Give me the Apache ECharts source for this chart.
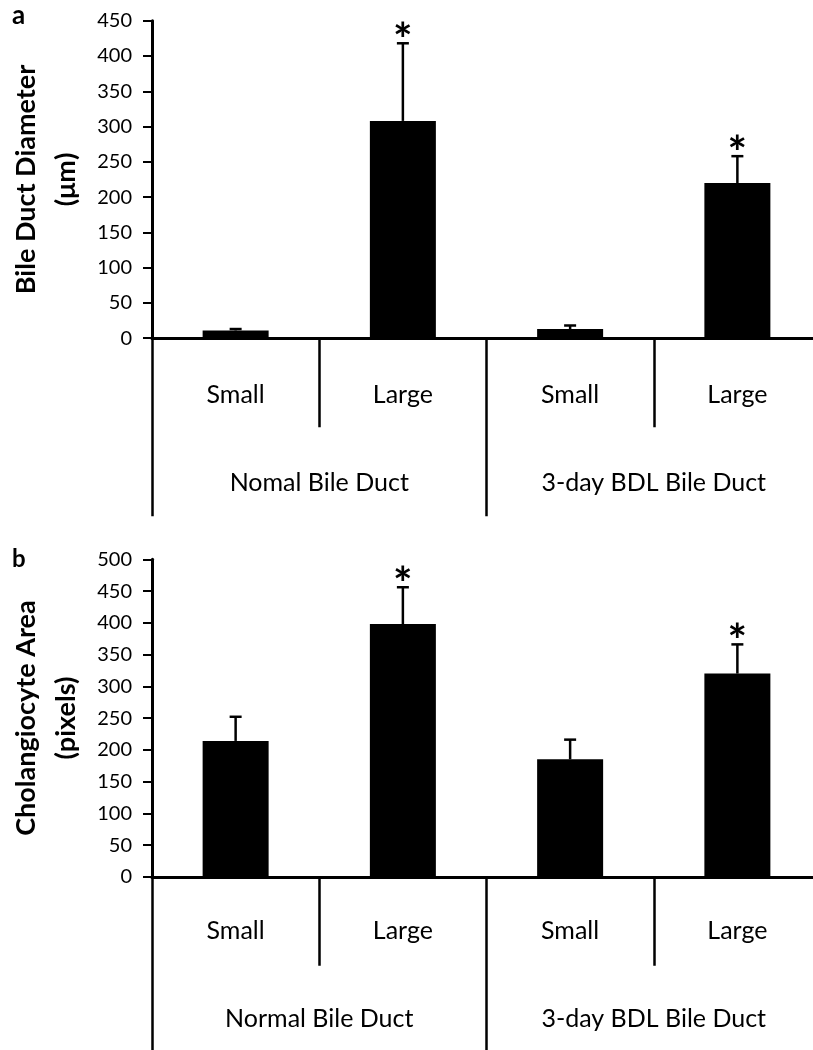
<!DOCTYPE html>
<html>
<head>
<meta charset="utf-8">
<script src="https://cdn.jsdelivr.net/npm/echarts@6/dist/echarts.min.js"></script>
<style>
  html, body { margin: 0; padding: 0; background: #fff; }
  #chart { width: 813px; height: 1050px; }
</style>
</head>
<body>
<div id="chart"></div>
<script>
// ---- data ----
const categories = ['Small', 'Large', 'Small', 'Large'];
const groupsA = ['Nomal Bile Duct', '3-day BDL Bile Duct'];
const groupsB = ['Normal Bile Duct', '3-day BDL Bile Duct'];
const diameterMean = [11, 308, 13, 220];
const diameterSD = [2, 110, 5, 38];
const areaMean = [214, 398, 185, 320];
const areaSD = [38, 58, 31, 46];
const significant = [0, 1, 0, 1];
const diameterAxis = { min: 0, max: 450, interval: 50 };
const areaAxis = { min: 0, max: 500, interval: 50 };
const titleA = 'Bile Duct Diameter\n(\u03bcm)';
const titleB = 'Cholangiocyte Area\n(pixels)';

// ---- styling ----
const FONT = 'Lato';
const chart = echarts.init(document.getElementById('chart'), null, { renderer: 'canvas' });

function errRender(params, api) {
  const x = api.value(0), m = api.value(1), sd = api.value(2), sig = api.value(3);
  const base = api.coord([x, m]);
  const top = api.coord([x, m + sd]);
  const children = [
    { type: 'line', shape: { x1: base[0], y1: base[1], x2: top[0], y2: top[1] }, style: { stroke: '#000', lineWidth: 2.5 } },
    { type: 'line', shape: { x1: top[0] - 6, y1: top[1], x2: top[0] + 6, y2: top[1] }, style: { stroke: '#000', lineWidth: 2.5 } }
  ];
  if (sig) {
    children.push({
      type: 'text', x: top[0], y: top[1] - 2,
      style: { text: '*', fill: '#000', fontFamily: FONT, fontWeight: 'bold', fontSize: 46, textAlign: 'center', textVerticalAlign: 'middle' }
    });
  }
  return { type: 'group', children };
}

function gridDef(top) {
  return { left: 152, right: -8, top: top, height: 317.5, outerBoundsMode: 'none', containLabel: false };
}

function catAxis(gridIndex, margin) {
  return {
    type: 'category', gridIndex, position: 'bottom', data: categories,
    axisLine: { show: true, lineStyle: { color: '#000', width: 3 } },
    axisTick: { show: true, length: 89, interval: 0, lineStyle: { color: '#000', width: 2.5 } },
    axisLabel: { interval: 0, margin, color: '#000', fontFamily: FONT, fontSize: 25 },
    splitLine: { show: false }
  };
}
function groupAxis(gridIndex, data, margin) {
  return {
    type: 'category', gridIndex, position: 'bottom', data,
    axisLine: { show: false },
    axisTick: { show: true, length: 178, interval: 0, lineStyle: { color: '#000', width: 2.5 } },
    axisLabel: { interval: 0, margin, color: '#000', fontFamily: FONT, fontSize: 25 },
    splitLine: { show: false }
  };
}
function valAxis(gridIndex, ax, name) {
  return {
    type: 'value', gridIndex, min: ax.min, max: ax.max, interval: ax.interval,
    name, nameLocation: 'middle', nameRotate: 90, nameGap: 66,
    nameTextStyle: { color: '#000', fontFamily: FONT, fontWeight: 'bold', fontSize: 27, lineHeight: 40 },
    axisLine: { show: true, lineStyle: { color: '#000', width: 3 } },
    axisTick: { show: true, length: 9, lineStyle: { color: '#000', width: 2 } },
    axisLabel: { margin: 20, color: '#000', fontFamily: FONT, fontSize: 20 },
    splitLine: { show: false }
  };
}

const option = {
  animation: false,
  backgroundColor: '#fff',
  grid: [gridDef(20.7), gridDef(559.3)],
  xAxis: [
    catAxis(0, 44), groupAxis(0, groupsA, 132),
    catAxis(1, 42), groupAxis(1, groupsB, 130)
  ],
  yAxis: [valAxis(0, diameterAxis, titleA), valAxis(1, areaAxis, titleB)],
  graphic: [
    { type: 'text', left: 12, top: 3, style: { text: 'a', fill: '#000', fontFamily: FONT, fontWeight: 'bold', fontSize: 26 } },
    { type: 'text', left: 12, top: 547, style: { text: 'b', fill: '#000', fontFamily: FONT, fontWeight: 'bold', fontSize: 24 } }
  ],
  series: [
    { type: 'bar', xAxisIndex: 0, yAxisIndex: 0, data: diameterMean, barWidth: 66, itemStyle: { color: '#000' } },
    { type: 'custom', xAxisIndex: 0, yAxisIndex: 0, renderItem: errRender, encode: { x: 0, y: 1 },
      data: categories.map((c, i) => [i, diameterMean[i], diameterSD[i], significant[i]]), z: 5 },
    { type: 'bar', xAxisIndex: 2, yAxisIndex: 1, data: areaMean, barWidth: 66, itemStyle: { color: '#000' } },
    { type: 'custom', xAxisIndex: 2, yAxisIndex: 1, renderItem: errRender, encode: { x: 0, y: 1 },
      data: categories.map((c, i) => [i, areaMean[i], areaSD[i], significant[i]]), z: 5 }
  ]
};
chart.setOption(option);
</script>
</body>
</html>
